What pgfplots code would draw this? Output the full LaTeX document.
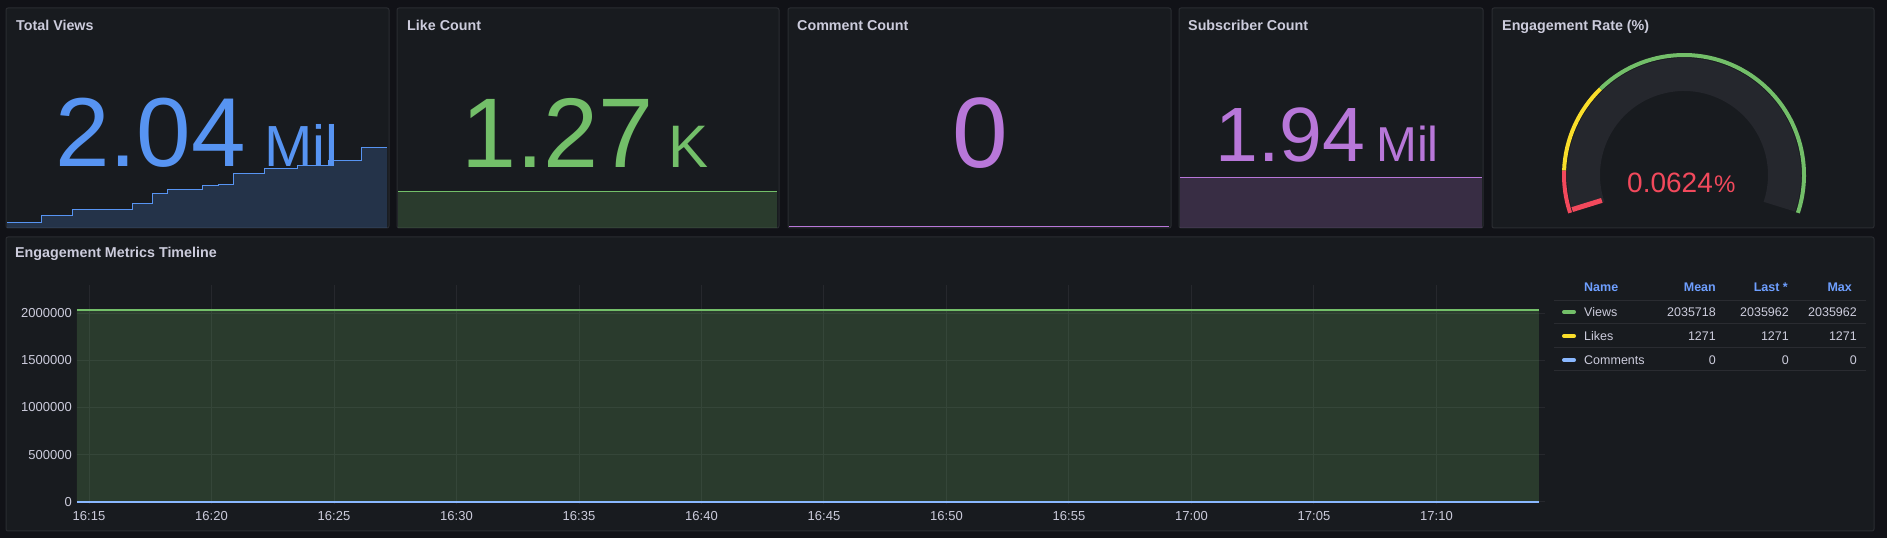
\documentclass[border=0pt]{standalone}
\usepackage{pgfplots}
\usepackage{pgfplotstable}
\pgfplotsset{compat=1.18}
\usepackage{fontspec}
\setmainfont{Liberation Sans}
\definecolor{pagebg}{HTML}{111217}
\definecolor{panelbg}{HTML}{181B1F}
\definecolor{border}{HTML}{2A2C31}
\definecolor{titletxt}{HTML}{CCCCDC}
\definecolor{gblue}{HTML}{5794F2}
\definecolor{ggreen}{HTML}{73BF69}
\definecolor{gpurple}{HTML}{B877D9}
\definecolor{gred}{HTML}{F2495C}
\definecolor{gyellow}{HTML}{FADE2A}
\definecolor{lblue}{HTML}{8AB8FF}
\definecolor{hdrblue}{HTML}{6E9FFF}
\definecolor{gridc}{HTML}{26282D}
\definecolor{gaugebg}{HTML}{25272D}
\newcommand{\fs}[1]{\fontsize{#1}{#1}\selectfont}
\pgfplotsset{spark/.style={scale only axis, hide axis, clip=false, anchor=south west, xmin=-0.49, xmax=59.18, height=88pt}}
% Views over time (minutes after 16:15)
\pgfplotstableread{
t views
-0.49 2035504
4.85 2035551
9.87 2035588
19.14 2035619
22.28 2035686
24.79 2035705
30.13 2035735
32.69 2035741
35.0 2035803
40.02 2035839
45.05 2035852
49.92 2035888
55.25 2035962
59.18 2035962
}\viewsdata
\begin{document}
\begin{tikzpicture}[x=1pt,y=1pt]
\fill[pagebg] (0,0) rectangle (1887,538);
\foreach \a/\b in {6/389,397/779,788/1171,1179/1483,1492/1874}
  \filldraw[fill=panelbg, draw=border, line width=1pt, rounded corners=2pt] (\a,310) rectangle (\b,530);
\filldraw[fill=panelbg, draw=border, line width=1pt, rounded corners=2pt] (6,7) rectangle (1874,301);

% Total Views sparkline (views shown relative to 2035000)
\begin{axis}[spark, clip=true, at={(7pt,310pt)}, width=380pt, ymin=472, ymax=1011]
\addplot[draw=none, fill=gblue, fill opacity=0.2, const plot] table[x=t, y expr=\thisrow{views}-2035000] {\viewsdata} \closedcycle;
\addplot[gblue, line width=1pt, const plot] table[x=t, y expr=\thisrow{views}-2035000] {\viewsdata};
\end{axis}
% Like Count sparkline
\begin{axis}[spark, at={(398pt,310pt)}, width=379pt, ymin=0, ymax=3107]
\addplot[draw=none, fill=ggreen, fill opacity=0.2] coordinates {(-0.49,0) (-0.49,1271) (59.18,1271) (59.18,0)} -- cycle;
\addplot[ggreen, line width=1pt] coordinates {(-0.49,1271) (59.18,1271)};
\end{axis}
% Comment Count sparkline
\begin{axis}[spark, at={(789pt,310pt)}, width=380pt, ymin=-1, ymax=87]
\addplot[gpurple, line width=1pt] coordinates {(-0.49,0) (59.18,0)};
\end{axis}
% Subscriber Count sparkline
\begin{axis}[spark, at={(1180pt,310pt)}, width=302pt, ymin=0, ymax=3414400]
\addplot[draw=none, fill=gpurple, fill opacity=0.2] coordinates {(-0.49,0) (-0.49,1940000) (59.18,1940000) (59.18,0)} -- cycle;
\addplot[gpurple, line width=1pt] coordinates {(-0.49,1940000) (59.18,1940000)};
\end{axis}

% Timeline
\begin{axis}[at={(77pt,34.5pt)}, anchor=south west, scale only axis, width=1468pt, height=218.5pt,
  xmin=-0.49, xmax=59.43, ymin=-19000, ymax=2300000,
  axis line style={draw=none}, major tick length=0pt, grid=major, grid style={gridc, line width=1pt},
  xtick={0,5,10,15,20,25,30,35,40,45,50,55},
  xticklabels={16:15,16:20,16:25,16:30,16:35,16:40,16:45,16:50,16:55,17:00,17:05,17:10},
  ytick={0,500000,1000000,1500000,2000000},
  yticklabels={0,500000,1000000,1500000,2000000},
  scaled y ticks=false,
  tick label style={font=\fs{13}, text=titletxt},
  xticklabel style={anchor=north, inner sep=0pt, yshift=-8pt},
  yticklabel style={anchor=east, inner sep=0pt, xshift=-5pt}]
\addplot[draw=none, fill=ggreen, fill opacity=0.2, const plot] table[x=t, y=views] {\viewsdata} \closedcycle;
\addplot[ggreen, line width=1.8pt, const plot] table[x=t, y=views] {\viewsdata};
\addplot[gyellow, line width=1.5pt] coordinates {(-0.49,1271) (59.18,1271)};
\addplot[lblue, line width=2pt] coordinates {(-0.49,0) (59.18,0)};
\end{axis}

% Gauge
\begin{axis}[at={(1559pt,318pt)}, anchor=south west, scale only axis, width=250pt, height=170pt,
  xmin=-125, xmax=125, ymin=-45, ymax=125, hide axis, clip=false]
\draw[gaugebg, line width=33pt] (axis cs:-95.37,-31.72) arc[start angle=198.4, end angle=-18.4, radius=100.5pt];
\draw[gred, line width=4pt] (axis cs:-113.87,-37.87) arc[start angle=198.4, end angle=177.8, radius=120pt];
\draw[gyellow, line width=4pt] (axis cs:-119.91,4.61) arc[start angle=177.8, end angle=134.1, radius=120pt];
\draw[ggreen, line width=4pt] (axis cs:-83.51,86.18) arc[start angle=134.1, end angle=-18.4, radius=120pt];
\addplot[gred, line width=5pt] coordinates {(-82.2,-25.4) (-111.8,-34.6)};
\end{axis}

% Titles
\begin{scope}[every node/.style={anchor=base west, inner sep=0pt, text=titletxt, font=\fs{14.3}\bfseries}]
\node at (16,507.5) {Total Views};
\node at (407,507.5) {Like Count};
\node at (797,507.5) {Comment Count};
\node at (1188,507.5) {Subscriber Count};
\node at (1502,507.5) {Engagement Rate (\%)};
\node at (15,280) {Engagement Metrics Timeline};
\end{scope}

% Big values
\begin{scope}[every node/.style={anchor=base west, inner sep=0pt}]
\node[text=gblue, font=\fs{98}] at (55,371) {2.04};
\node[text=gblue, font=\fs{58}] at (264,371) {Mil};
\node[text=ggreen, font=\fs{99}] at (461,370) {1.27};
\node[text=ggreen, font=\fs{60}] at (668,370) {K};
\node[text=gpurple, font=\fs{100}, anchor=base] at (980,370) {0};
\node[text=gpurple, font=\fs{77}] at (1215,376) {1.94};
\node[text=gpurple, font=\fs{49}] at (1376,376) {Mil};
\node[text=gred, font=\fs{28}] at (1627,345) {0.0624};
\node[text=gred, font=\fs{24}] at (1714,345) {\%};
\end{scope}

% Legend table
\foreach \yy in {237,214,190,167}
  \draw[border, line width=1pt] (1554,\yy) -- (1866,\yy);
\begin{scope}[every node/.style={inner sep=0pt, font=\fs{12.5}}]
\node[anchor=base west, text=hdrblue, font=\fs{12.5}\bfseries] at (1584,246.5) {Name};
\node[anchor=base east, text=hdrblue, font=\fs{12.5}\bfseries] at (1716,246.5) {Mean};
\node[anchor=base east, text=hdrblue, font=\fs{12.5}\bfseries] at (1788,246.5) {Last *};
\node[anchor=base east, text=hdrblue, font=\fs{12.5}\bfseries] at (1852,246.5) {Max};
\node[anchor=base west, text=titletxt] at (1584,221.5) {Views};
\node[anchor=base east, text=titletxt] at (1716,221.5) {2035718};
\node[anchor=base east, text=titletxt] at (1789,221.5) {2035962};
\node[anchor=base east, text=titletxt] at (1857,221.5) {2035962};
\node[anchor=base west, text=titletxt] at (1584,197.5) {Likes};
\node[anchor=base east, text=titletxt] at (1716,197.5) {1271};
\node[anchor=base east, text=titletxt] at (1789,197.5) {1271};
\node[anchor=base east, text=titletxt] at (1857,197.5) {1271};
\node[anchor=base west, text=titletxt] at (1584,173) {Comments};
\node[anchor=base east, text=titletxt] at (1716,173) {0};
\node[anchor=base east, text=titletxt] at (1789,173) {0};
\node[anchor=base east, text=titletxt] at (1857,173) {0};
\end{scope}
\draw[ggreen, line width=4pt, line cap=round] (1564,226) -- (1574,226);
\draw[gyellow, line width=4pt, line cap=round] (1564,202) -- (1574,202);
\draw[lblue, line width=4pt, line cap=round] (1564,178) -- (1574,178);

\pgfresetboundingbox
\path[use as bounding box] (0,0) rectangle (1887,538);
\end{tikzpicture}
\end{document}
